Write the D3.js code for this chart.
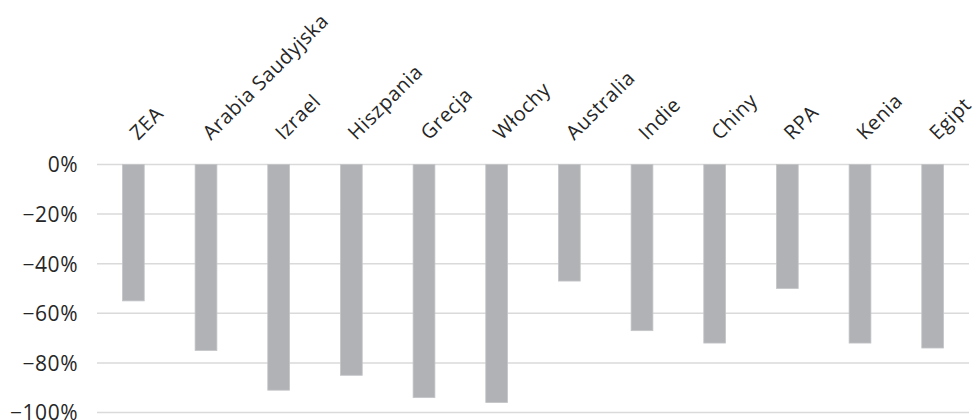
<!DOCTYPE html>
<html>
<head>
<meta charset="utf-8">
<script src="https://cdn.jsdelivr.net/npm/d3@7"></script>
<style>
  html, body { margin: 0; padding: 0; background: #fff; }
  svg text { font-family: "Open Sans", "Noto Sans", sans-serif; fill: #262626; }
</style>
</head>
<body>
<svg id="chart" width="976" height="420"></svg>
<script>
// Change per country (percent)
const countries = ["ZEA", "Arabia Saudyjska", "Izrael", "Hiszpania", "Grecja", "Włochy",
                   "Australia", "Indie", "Chiny", "RPA", "Kenia", "Egipt"];
const changes = [-55, -75, -91, -85, -94, -96, -47, -67, -72, -50, -72, -74];
const yTicks = [0, -20, -40, -60, -80, -100];

const svg = d3.select("#chart");
const plotLeft = 97, plotRight = 969, plotTop = 164.5, plotBottom = 412.5;

const x = d3.scaleBand().domain(countries).range([plotLeft, plotRight]).paddingInner(0.7).paddingOuter(0.35);
const y = d3.scaleLinear().domain([-100, 0]).range([plotBottom, plotTop]);

// gridlines
svg.append("g")
  .selectAll("line")
  .data(yTicks)
  .join("line")
  .attr("x1", plotLeft).attr("x2", plotRight)
  .attr("y1", d => y(d)).attr("y2", d => y(d))
  .attr("stroke", "#dadada").attr("stroke-width", 1.5);

// y axis labels
const yAxis = d3.axisLeft(y).tickValues(yTicks).tickSize(0).tickPadding(0)
  .tickFormat(d => (d < 0 ? "\u2212" + Math.abs(d) : d) + "%");
const yg = svg.append("g").attr("transform", `translate(${plotLeft - 19},0)`).call(yAxis);
yg.select(".domain").remove();
yg.selectAll("text").attr("font-size", 21).attr("dy", "0.35em")
  .style("letter-spacing", "0.5px")
  .style("font-family", "'Open Sans', sans-serif").attr("fill", "#262626");

// bars
svg.append("g")
  .selectAll("rect")
  .data(countries.map((c, i) => ({ c, v: changes[i] })))
  .join("rect")
  .attr("x", d => x(d.c))
  .attr("width", x.bandwidth())
  .attr("y", y(0))
  .attr("height", d => y(d.v) - y(0))
  .attr("fill", "#b1b2b6")
  .attr("stroke", "#c4c5c8")
  .attr("stroke-width", 0.8);

// category labels, rotated
const xAxis = d3.axisTop(x).tickSize(0).tickPadding(0);
const xg = svg.append("g").attr("transform", "translate(0,141)").call(xAxis);
xg.select(".domain").remove();
xg.selectAll("text")
  .attr("font-size", 20)
  .attr("text-anchor", "start")
  .attr("y", 0).attr("dy", 0)
  .attr("transform", "translate(5,0) rotate(-45)")
  .style("letter-spacing", "0.6px")
  .style("font-family", "'Open Sans', sans-serif").attr("fill", "#262626");
</script>
</body>
</html>
